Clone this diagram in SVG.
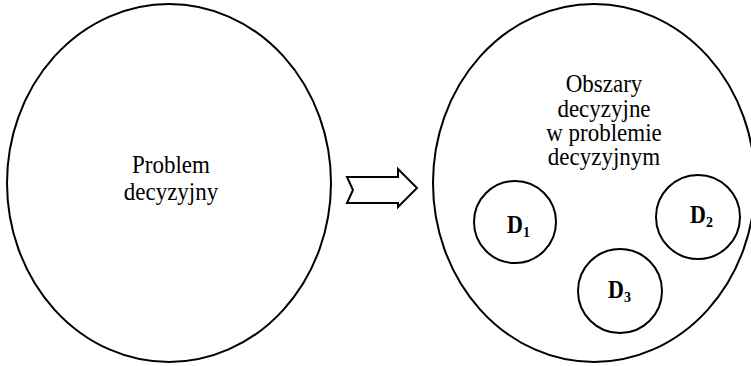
<svg xmlns="http://www.w3.org/2000/svg" width="751" height="366" viewBox="0 0 751 366">
<style>
.shape{fill:#fff;stroke:#000;stroke-width:2}
.t{font-family:'Liberation Serif','Times New Roman','DejaVu Serif',serif;font-size:23px;fill:#000;text-anchor:middle}
.d{font-family:'Liberation Serif','Times New Roman','DejaVu Serif',serif;font-size:22px;font-weight:bold;fill:#000}
.sub{font-size:14px}
</style>
<rect width="751" height="366" fill="#fff"/>
<g id="problem">
<ellipse class="shape" cx="169" cy="183" rx="162" ry="179"/>
<text class="t" transform="matrix(1,0,0,1.1,171,173)">Problem</text>
<text class="t" transform="matrix(1,0,0,1.1,171,200)">decyzyjny</text>
</g>
<g id="connectors">
<polygon class="shape" points="347,177 398,177 398,169 417,188 398,207 398,203 347,203 353,190"/>
</g>
<g id="obszary">
<ellipse class="shape" cx="594" cy="183" rx="161" ry="179"/>
<text class="t" transform="matrix(1,0,0,1.1,604,92)">Obszary</text>
<text class="t" transform="matrix(1,0,0,1.1,604,117)">decyzyjne</text>
<text class="t" transform="matrix(1,0,0,1.1,604,141)">w problemie</text>
<text class="t" transform="matrix(1,0,0,1.1,604,165)">decyzyjnym</text>
</g>
<g id="d1">
<circle class="shape" cx="515" cy="222" r="41"/>
<text class="d" transform="matrix(1,0,0,1.1,507,233)">D<tspan class="sub" dy="3.5">1</tspan></text>
</g>
<g id="d2">
<circle class="shape" cx="698" cy="217" r="42"/>
<text class="d" transform="matrix(1,0,0,1.1,690,223)">D<tspan class="sub" dy="3.5">2</tspan></text>
</g>
<g id="d3">
<circle class="shape" cx="620" cy="291" r="42"/>
<text class="d" transform="matrix(1,0,0,1.1,608,298)">D<tspan class="sub" dy="3.5">3</tspan></text>
</g>
</svg>
